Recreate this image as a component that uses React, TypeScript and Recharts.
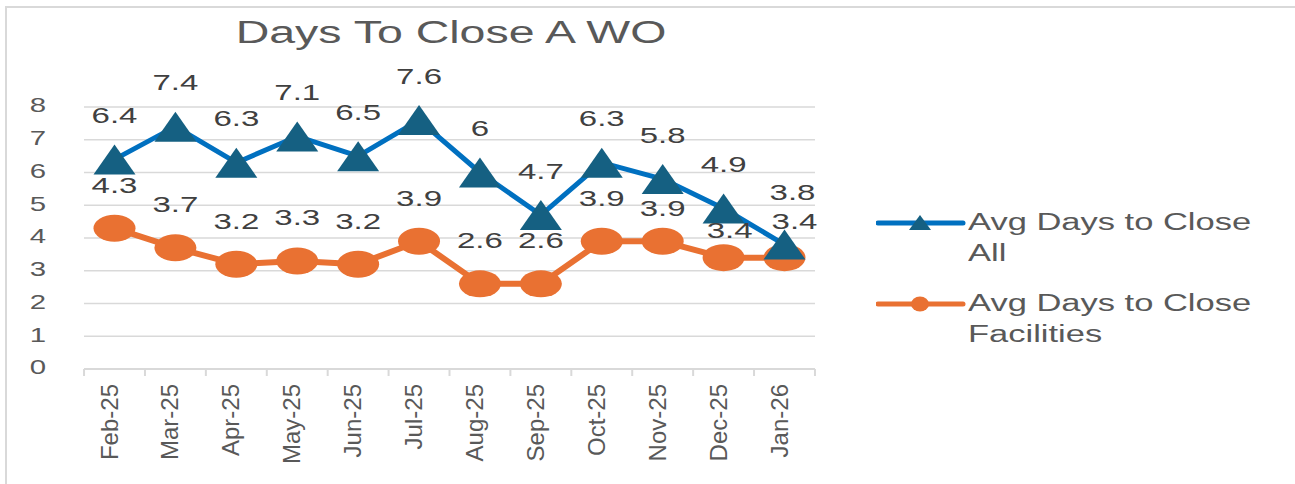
import React from 'react';
import { LineChart, Line, XAxis, YAxis, CartesianGrid, Legend, LabelList } from 'recharts';

const months = ['Feb-25', 'Mar-25', 'Apr-25', 'May-25', 'Jun-25', 'Jul-25', 'Aug-25', 'Sep-25', 'Oct-25', 'Nov-25', 'Dec-25', 'Jan-26'];
const avgAll = [6.4, 7.4, 6.3, 7.1, 6.5, 7.6, 6, 4.7, 6.3, 5.8, 4.9, 3.8];
const avgFacilities = [4.3, 3.7, 3.2, 3.3, 3.2, 3.9, 2.6, 2.6, 3.9, 3.9, 3.4, 3.4];
const yTicks = [0, 1, 2, 3, 4, 5, 6, 7, 8];

const data = months.map((m, i) => ({ month: m, all: avgAll[i], facilities: avgFacilities[i] }));

const FONT = '"Liberation Sans", Arial, sans-serif';
const BLUE = '#0070C0';
const BLUE_MARK = '#156082';
const ORANGE = '#E97132';
const GRID = '#d9d9d9';
const TEXT = '#595959';

// label nudges where Excel moved crowded labels (index -> [dx, extra lift])
const nudgeAll: Record<number, [number, number]> = { 11: [8, 8] };
const nudgeFac: Record<number, [number, number]> = { 9: [0, -10], 10: [6, -16], 11: [10, -7] };

// wide triangle marker (picture is stretched sideways)
const TriangleDot = (props: any) => {
  const { cx, cy } = props;
  if (cx == null || cy == null) return null;
  return <polygon points={`${cx},${cy - 15} ${cx + 21},${cy + 15} ${cx - 21},${cy + 15}`} fill={BLUE_MARK} />;
};

const EllipseDot = (props: any) => {
  const { cx, cy } = props;
  if (cx == null || cy == null) return null;
  return <ellipse cx={cx} cy={cy} rx={21} ry={13.5} fill={ORANGE} />;
};

const makeLabel = (lift: number, nudge: Record<number, [number, number]>) => (props: any) => {
  const { x, y, value, index } = props;
  const [dx, dl] = nudge[index] || [0, 0];
  return (
    <text
      transform={`translate(${x + dx},${y - lift - dl}) scale(1.5,1)`}
      textAnchor="middle"
      dominantBaseline="central"
      fontSize={22}
      fontFamily={FONT}
      fill="#404040"
    >
      {value}
    </text>
  );
};

const YTick = (props: any) => {
  const { x, y, payload } = props;
  return (
    <text
      transform={`translate(${x},${y - 2}) scale(1.4,1)`}
      textAnchor="end"
      dominantBaseline="central"
      fontSize={21}
      fontFamily={FONT}
      fill={TEXT}
    >
      {payload.value}
    </text>
  );
};

const XTick = (props: any) => {
  const { x, y, payload, index, width, visibleTicksCount } = props;
  const count = visibleTicksCount || months.length;
  const band = (width || 731) / count;
  const axisY = y - 15;
  return (
    <g>
      <line x1={x - band / 2} y1={axisY} x2={x - band / 2} y2={axisY + 7} stroke={GRID} strokeWidth={2} />
      {index === count - 1 && (
        <line x1={x + band / 2} y1={axisY} x2={x + band / 2} y2={axisY + 7} stroke={GRID} strokeWidth={2} />
      )}
      <text
        transform={`translate(${x + 3},${y}) rotate(-90)`}
        textAnchor="end"
        fontSize={24}
        fontFamily={FONT}
        fill={TEXT}
      >
        {payload.value}
      </text>
    </g>
  );
};

const legendRows = [
  { lines: ['Avg Days to Close', 'All'], color: BLUE, marker: 'triangle' },
  { lines: ['Avg Days to Close', 'Facilities'], color: ORANGE, marker: 'circle' },
];

const renderLegend = () => (
  <div style={{ fontFamily: FONT, fontSize: 23, color: TEXT, lineHeight: '31px' }}>
    {legendRows.map((r) => (
      <div key={r.lines[1]} style={{ display: 'flex', alignItems: 'flex-start', marginBottom: 19 }}>
        <svg width={92} height={31} style={{ display: 'block' }}>
          <line x1={2} y1={16} x2={87} y2={16} stroke={r.color} strokeWidth={5} strokeLinecap="round" />
          {r.marker === 'triangle' ? (
            <polygon points="44,8 55,23 33,23" fill={BLUE_MARK} />
          ) : (
            <ellipse cx={44} cy={16} rx={9} ry={7.5} fill={ORANGE} />
          )}
        </svg>
        <div style={{ transform: 'scaleX(1.5)', transformOrigin: 'left top', whiteSpace: 'nowrap' }}>
          {r.lines[0]}
          <br />
          {r.lines[1]}
        </div>
      </div>
    ))}
  </div>
);

export default function App() {
  return (
    <div style={{ position: 'absolute', left: 0, top: 0, width: 1295, height: 484, background: '#fff', overflow: 'hidden' }}>
      <div
        style={{
          position: 'absolute',
          left: 5,
          top: 6,
          width: 1290,
          height: 478,
          borderTop: `2px solid ${GRID}`,
          borderLeft: `2px solid ${GRID}`,
        }}
      />
      <div
        style={{
          position: 'absolute',
          left: 201,
          top: 17,
          width: 500,
          textAlign: 'center',
          fontFamily: FONT,
          fontSize: 31,
          lineHeight: '31px',
          color: TEXT,
          transform: 'scaleX(1.5)',
          transformOrigin: 'center',
          whiteSpace: 'nowrap',
        }}
      >
        Days To Close A WO
      </div>
      <div style={{ position: 'absolute', left: 0, top: 0 }}>
        <LineChart width={1295} height={484} data={data} margin={{ top: 107, right: 480, bottom: 5, left: 4 }}>
          <CartesianGrid horizontal vertical={false} stroke={GRID} strokeWidth={1.5} />
          <XAxis
            dataKey="month"
            interval={0}
            height={110}
            padding={{ left: 30.5, right: 30.5 }}
            tickLine={false}
            tickSize={0}
            tickMargin={15}
            axisLine={{ stroke: GRID, strokeWidth: 2 }}
            tick={<XTick />}
          />
          <YAxis
            domain={[0, 8]}
            ticks={yTicks}
            width={80}
            axisLine={false}
            tickLine={false}
            tickSize={0}
            tickMargin={38}
            tick={<YTick />}
          />
          <Legend
            layout="vertical"
            align="center"
            verticalAlign="middle"
            wrapperStyle={{ left: 876, top: 207, width: 420 }}
            content={renderLegend}
          />
          <Line
            dataKey="facilities"
            name="Avg Days to Close Facilities"
            stroke={ORANGE}
            strokeWidth={6}
            strokeLinejoin="round"
            dot={<EllipseDot />}
            activeDot={false}
            isAnimationActive={false}
          >
            <LabelList dataKey="facilities" content={makeLabel(43, nudgeFac)} />
          </Line>
          <Line
            dataKey="all"
            name="Avg Days to Close All"
            stroke={BLUE}
            strokeWidth={5}
            strokeLinejoin="round"
            dot={<TriangleDot />}
            activeDot={false}
            isAnimationActive={false}
          >
            <LabelList dataKey="all" content={makeLabel(44, nudgeAll)} />
          </Line>
        </LineChart>
      </div>
    </div>
  );
}
